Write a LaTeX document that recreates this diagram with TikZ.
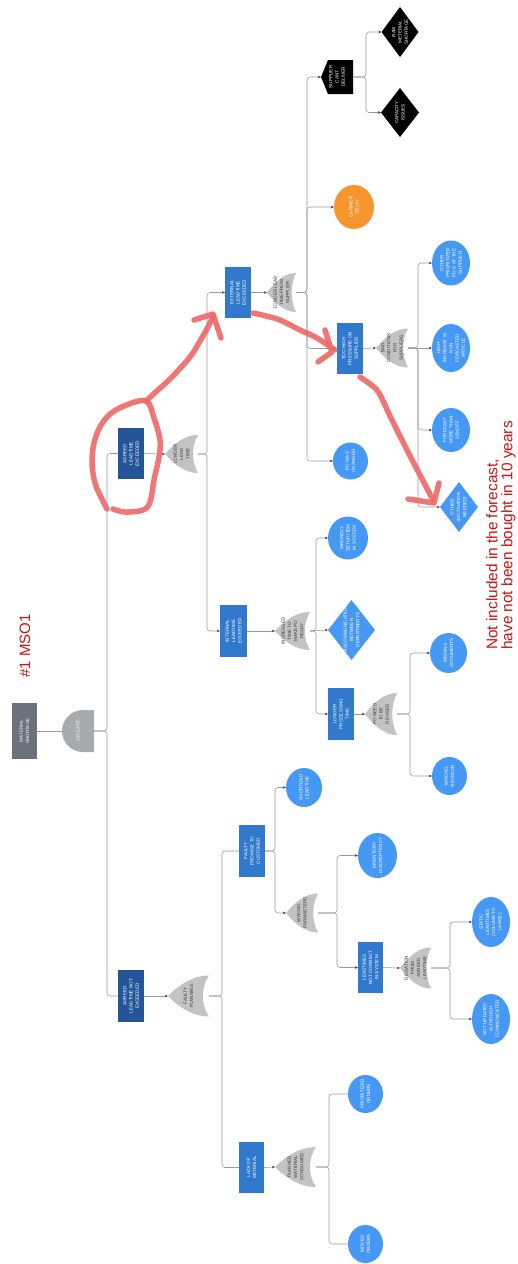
\documentclass[tikz,border=0pt]{standalone}
\usepackage{fontspec}
\setmainfont{Liberation Sans}
\usetikzlibrary{arrows.meta,shapes.geometric}

\definecolor{slate}{HTML}{6C727B}
\definecolor{navy}{HTML}{245599}
\definecolor{midblue}{HTML}{3079CC}
\definecolor{skyblue}{HTML}{4698F5}
\definecolor{gatecol}{HTML}{C3C3C3}
\definecolor{rootgate}{HTML}{A8AAAD}
\definecolor{carrot}{HTML}{F7962F}
\definecolor{ink}{HTML}{CC1414}
\definecolor{highlight}{HTML}{EF6A6A}
\definecolor{linegray}{HTML}{9A9A9A}
\definecolor{tipgray}{HTML}{404040}
\definecolor{gatetext}{HTML}{3A3A3A}

% OR gate pointing left: name, x, y, half width, half height, text
\newcommand\faultgate[6]{%
  \begin{scope}[shift={(#2,#3)}]
    \fill[gatecol] (-#4,0) .. controls (-0.4*#4,-0.6*#5) and (0.25*#4,-#5) .. (#4,-#5)
      .. controls (0.6*#4,-0.4*#5) and (0.6*#4,0.4*#5) .. (#4,#5)
      .. controls (0.25*#4,#5) and (-0.4*#4,0.6*#5) .. (-#4,0) -- cycle;
  \end{scope}
  \node[blk, minimum width=2*#4, minimum height=2*#5,
        label={[lbld]center:{#6}}] (#1) at (#2,#3) {};}

\begin{document}
\begin{tikzpicture}[x=1pt,y=-1pt,
  blk/.style={inner sep=0pt, outer sep=0pt},
  lblw/.style={rotate=90, text=white, align=center, inner sep=0pt,
    font=\fontsize{4.6}{6.2}\selectfont},
  lbld/.style={lblw, text=gatetext},
  rectbox/.style={blk, rectangle, minimum width=26, minimum height=51},
  bubble/.style={blk, ellipse, fill=skyblue},
  gem/.style={blk, diamond, fill=skyblue},
  conn/.style={draw=linegray, line width=0.55pt, rounded corners=3pt},
  arr/.style={conn, -{Stealth[length=3.2pt,width=2.6pt,color=tipgray]}},
  redpen/.style={draw=highlight, line width=5.5pt, line cap=round,
    line join=round, opacity=0.92}
]
\useasboundingbox (0,0) rectangle (517,1264);
\fill[white] (0,0) rectangle (517,1264);

% heading and remark
\node[rotate=90, text=ink, font=\fontsize{15}{18}\selectfont] (title) at (25,646) {\#1 MSO1};
\node[rotate=90, anchor=west, align=left, text=ink, inner sep=0pt,
      font=\fontsize{15.4}{15}\selectfont] (remark) at (501,650)
      {Not included in the forecast,\\have not been bought in 10 years};

% top event and root gate
\node[rectbox, fill=slate, minimum width=25, minimum height=56,
      label={[lblw]center:{MATERIAL\\SHORTAGE}}] (top) at (24.5,731) {};
\begin{scope}[shift={(78,731)}]
  \fill[rootgate] (16,-21) -- (5,-21) .. controls (-6.6,-21) and (-16,-11.6) .. (-16,0)
    .. controls (-16,11.6) and (-6.6,21) .. (5,21) -- (16,21) -- cycle;
\end{scope}
\node[blk, minimum width=32, minimum height=42,
      label={[lblw]center:{OR GATE}}] (root) at (78,731) {};

% agreed leadtime exceeded branch
\node[rectbox, fill=navy, label={[lblw]center:{AGREED\\LEADTIME\\EXCEEDED}}] (ale) at (131,453.5) {};
\faultgate{g1}{181.5}{454}{16.5}{19}{LONGER\\LEAD\\TIME}
\node[rectbox, fill=midblue, label={[lblw]center:{EXTERNAL\\LEADTIME\\EXCEEDED}}] (ext) at (238,292.5) {};
\faultgate{g2}{281.5}{292.5}{14.5}{19.5}{LONGER LEAD\\TIME FROM\\SUPPLIER}
\fill[black] (321,77) -- (328,60) -- (353,60) -- (353,94) -- (328,94) -- cycle;
\node[blk, minimum width=32, minimum height=34,
      label={[lblw]center:{SUPPLIER\\CANT\\DELIVER}}] (scd) at (337,77) {};
\node[gem, fill=black, minimum width=37, minimum height=50,
      label={[lblw]center:{RAW\\METERIAL\\SHORTAGE}}] (raw) at (400,32) {};
\node[gem, fill=black, minimum width=38, minimum height=49,
      label={[lblw]center:{CAPACITY\\ISSUES}}] (cap) at (400,112.5) {};
\node[bubble, fill=carrot, minimum width=40, minimum height=44,
      label={[lblw]center:{CARRIER\\DELAY}}] (carrier) at (354,207) {};
\node[rectbox, fill=midblue, label={[lblw]center:{TOO HIGH\\PRESSURE ON\\SUPPLIER}}] (pressure) at (350,348.5) {};
\faultgate{g3}{392}{348}{16}{19.5}{BAD\\CONDITIONS\\FOR\\SUPPLIERS}
\node[bubble, minimum width=38, minimum height=45,
      label={[lblw]center:{OTHER\\PRIORITIZED\\PO-S AT THE\\SUPPLIER}}] (otherpo) at (451,263) {};
\node[bubble, minimum width=38, minimum height=48,
      label={[lblw]center:{HIGH\\INCREASE IN\\NON\\FORCASTED\\ARTICLE}}] (increase) at (451,348) {};
\node[bubble, minimum width=38, minimum height=44,
      label={[lblw]center:{FORECAST\\MORE THAN\\25\%OFF}}] (forecast) at (451,430) {};
\node[gem, minimum width=38, minimum height=50,
      label={[lblw]center:{OTHER\\(MOTIVATION\\NEEDED)}}] (motivation) at (459,507) {};
\node[bubble, minimum width=35, minimum height=37,
      label={[lblw]center:{PO WAS\\CHANGED}}] (pochanged) at (350.5,461) {};

\node[rectbox, fill=midblue, minimum width=27, minimum height=52,
      label={[lblw]center:{INTERNAL\\LEADTIME\\EXCEEDED}}] (int) at (233.5,631) {};
\faultgate{g4}{292.5}{631}{17.5}{19}{INCREASED\\TIME TO\\MAKE PO\\READY}
\node[bubble, minimum width=40, minimum height=43,
      label={[lblw]center:{WRONGLY\\SETUP ITEM\\IN SYSTEM}}] (setup) at (348,538) {};
\node[gem, minimum width=47, minimum height=60,
      label={[lblw]center:{MISCOMMUNICATION\\BETWEEN\\DEPARTMENTS}}] (miscomm) at (351.5,630) {};
\node[rectbox, fill=midblue, minimum height=52,
      label={[lblw]center:{LONGER\\PROCESSING\\TIME}}] (processing) at (341,714) {};
\faultgate{g5}{381}{714}{16}{21}{PO NEED\\TO BE\\REVISED}
\node[bubble, minimum width=37, minimum height=40,
      label={[lblw]center:{MISSING\\DOCUMENTS}}] (missing) at (448.5,653) {};
\node[bubble, minimum width=35, minimum height=38,
      label={[lblw]center:{WRONG\\REVISION}}] (revision) at (449.5,776) {};

% agreed leadtime not exceeded branch
\node[rectbox, fill=navy, minimum height=52,
      label={[lblw]center:{AGREED\\LEADTIME NOT\\EXCEEDED}}] (alne) at (131,996) {};
\faultgate{g6}{188.5}{996}{20.5}{20.5}{FAULTY\\PLANNING}
\node[rectbox, fill=midblue, minimum height=52,
      label={[lblw]center:{FAULTY\\PROMISE TO\\CUSTOMER}}] (promise) at (252,851) {};
\node[bubble, minimum width=36, minimum height=39,
      label={[lblw]center:{SHORTEND\\LEADTIME}}] (shortend) at (304,787.5) {};
\faultgate{g7}{302}{913}{16}{19.5}{WRONG\\PARAMETERS}
\node[bubble, minimum width=39, minimum height=45,
      label={[lblw]center:{INVENTORY\\DISCREPTENCY}}] (inventory) at (377.5,855.5) {};
\node[rectbox, fill=midblue, minimum width=25,
      label={[lblw]center:{LEADTIMES\\NOT CORRECT\\IN SYSTEM}}] (notcorrect) at (370.5,967.5) {};
\faultgate{g8}{415.5}{968}{15.5}{20.5}{DEVIATION\\FROM\\AGREED\\LEADTIME}
\node[bubble, minimum width=38, minimum height=50,
      label={[lblw]center:{STATIC\\LEADTIMES\\(VOLUME TO\\LARGE)}}] (static) at (491,922) {};
\node[bubble, minimum width=38, minimum height=50,
      label={[lblw]center:{NOT UPDATED\\ALTHOUGH\\COMMUNICATED}}] (notupdated) at (491,1019) {};
\node[rectbox, fill=midblue, minimum width=25,
      label={[lblw]center:{LACK OF\\MATERIAL}}] (lack) at (251.5,1167.5) {};
\faultgate{g9}{295.5}{1167}{20.5}{20}{PLANNED\\MATERIAL\\CONSUMED}
\node[bubble, minimum width=35, minimum height=38,
      label={[lblw]center:{PRIORITIZED\\ORDERS}}] (prioritized) at (365.5,1094) {};
\node[bubble, minimum width=35, minimum height=38,
      label={[lblw]center:{MOVED\\ORDERS}}] (moved) at (365.5,1244) {};

% connectors
\draw[conn] (top.east) -- (root.west);
\draw[conn] (root.east) -- ++(13,0) |- (ale.west);
\draw[conn] (root.east) -- ++(13,0) |- (alne.west);

\draw[arr] (ale.east) -- (g1.west);
\draw[arr] (g1.east) -- ++(9,0) |- (ext.west);
\draw[arr] (g1.east) -- ++(9,0) |- (int.west);
\draw[arr] (ext.east) -- (g2.west);
\draw[arr] (g2.east) -- ++(11,0) |- (scd.west);
\draw[arr] (g2.east) -- ++(11,0) |- (carrier.west);
\draw[arr] (g2.east) -- ++(11,0) |- (pressure.west);
\draw[arr] (g2.east) -- ++(11,0) |- (pochanged.west);
\draw[arr] (scd.east) -- ++(13,0) |- (raw.west);
\draw[arr] (scd.east) -- ++(13,0) |- (cap.west);
\draw[arr] (pressure.east) -- (g3.west);
\draw[arr] (g3.east) -- ++(10,0) |- (otherpo.west);
\draw[arr] (g3.east) -- (increase.west);
\draw[arr] (g3.east) -- ++(10,0) |- (forecast.west);
\draw[arr] (g3.east) -- ++(10,0) |- (motivation.west);

\draw[arr] (int.east) -- (g4.west);
\draw[arr] (g4.east) -- ++(6,0) |- (setup.west);
\draw[arr] (g4.east) -- (miscomm.west);
\draw[arr] (g4.east) -- ++(6,0) |- (processing.west);
\draw[arr] (processing.east) -- (g5.west);
\draw[arr] (g5.east) -- ++(13,0) |- (missing.west);
\draw[arr] (g5.east) -- ++(13,0) |- (revision.west);

\draw[arr] (alne.east) -- (g6.west);
\draw[conn] (g6.east) -- ++(13,0) |- (promise.west);
\draw[conn] (g6.east) -- ++(13,0) |- (lack.west);
\draw[arr] (promise.east) -- ++(10,0) |- (shortend.west);
\draw[arr] (promise.east) -- ++(10,0) |- (g7.west);
\draw[arr] (g7.east) -- ++(19,0) |- (inventory.west);
\draw[arr] (g7.east) -- ++(19,0) |- (notcorrect.west);
\draw[arr] (notcorrect.east) -- (g8.west);
\draw[arr] (g8.east) -- ++(19,0) |- (static.west);
\draw[arr] (g8.east) -- ++(19,0) |- (notupdated.west);
\draw[arr] (lack.east) -- (g9.west);
\draw[conn] (g9.east) -- ++(13,0) |- (prioritized.west);
\draw[conn] (g9.east) -- ++(13,0) |- (moved.west);

% hand-drawn highlights
\draw[redpen] plot[smooth, tension=0.6] coordinates {(113,509) (125,512) (143,510) (150,502)
  (154,480) (159,457) (160,440) (154,418) (146,401) (124,406) (107,417) (96,436)
  (92,460) (95,483) (102,499) (107,509)};
\draw[redpen] plot[smooth, tension=0.6] coordinates {(146,401) (158,390) (172,377)
  (190,357) (200,341) (208,327) (213,316)};
\draw[redpen] (194,320) -- (213,314) -- (221,338);
\draw[redpen] plot[smooth, tension=0.6] coordinates {(253,313) (266,316) (280,320)
  (300,330) (317,338) (335,350)};
\draw[redpen] (325,330) -- (332,352) -- (318,362);
\draw[redpen] plot[smooth, tension=0.6] coordinates {(360,377) (370,384) (379,393)
  (391,418) (407,450) (420,475) (433,500)};
\draw[redpen] (408,499) -- (434,503) -- (439,483);
\end{tikzpicture}
\end{document}
